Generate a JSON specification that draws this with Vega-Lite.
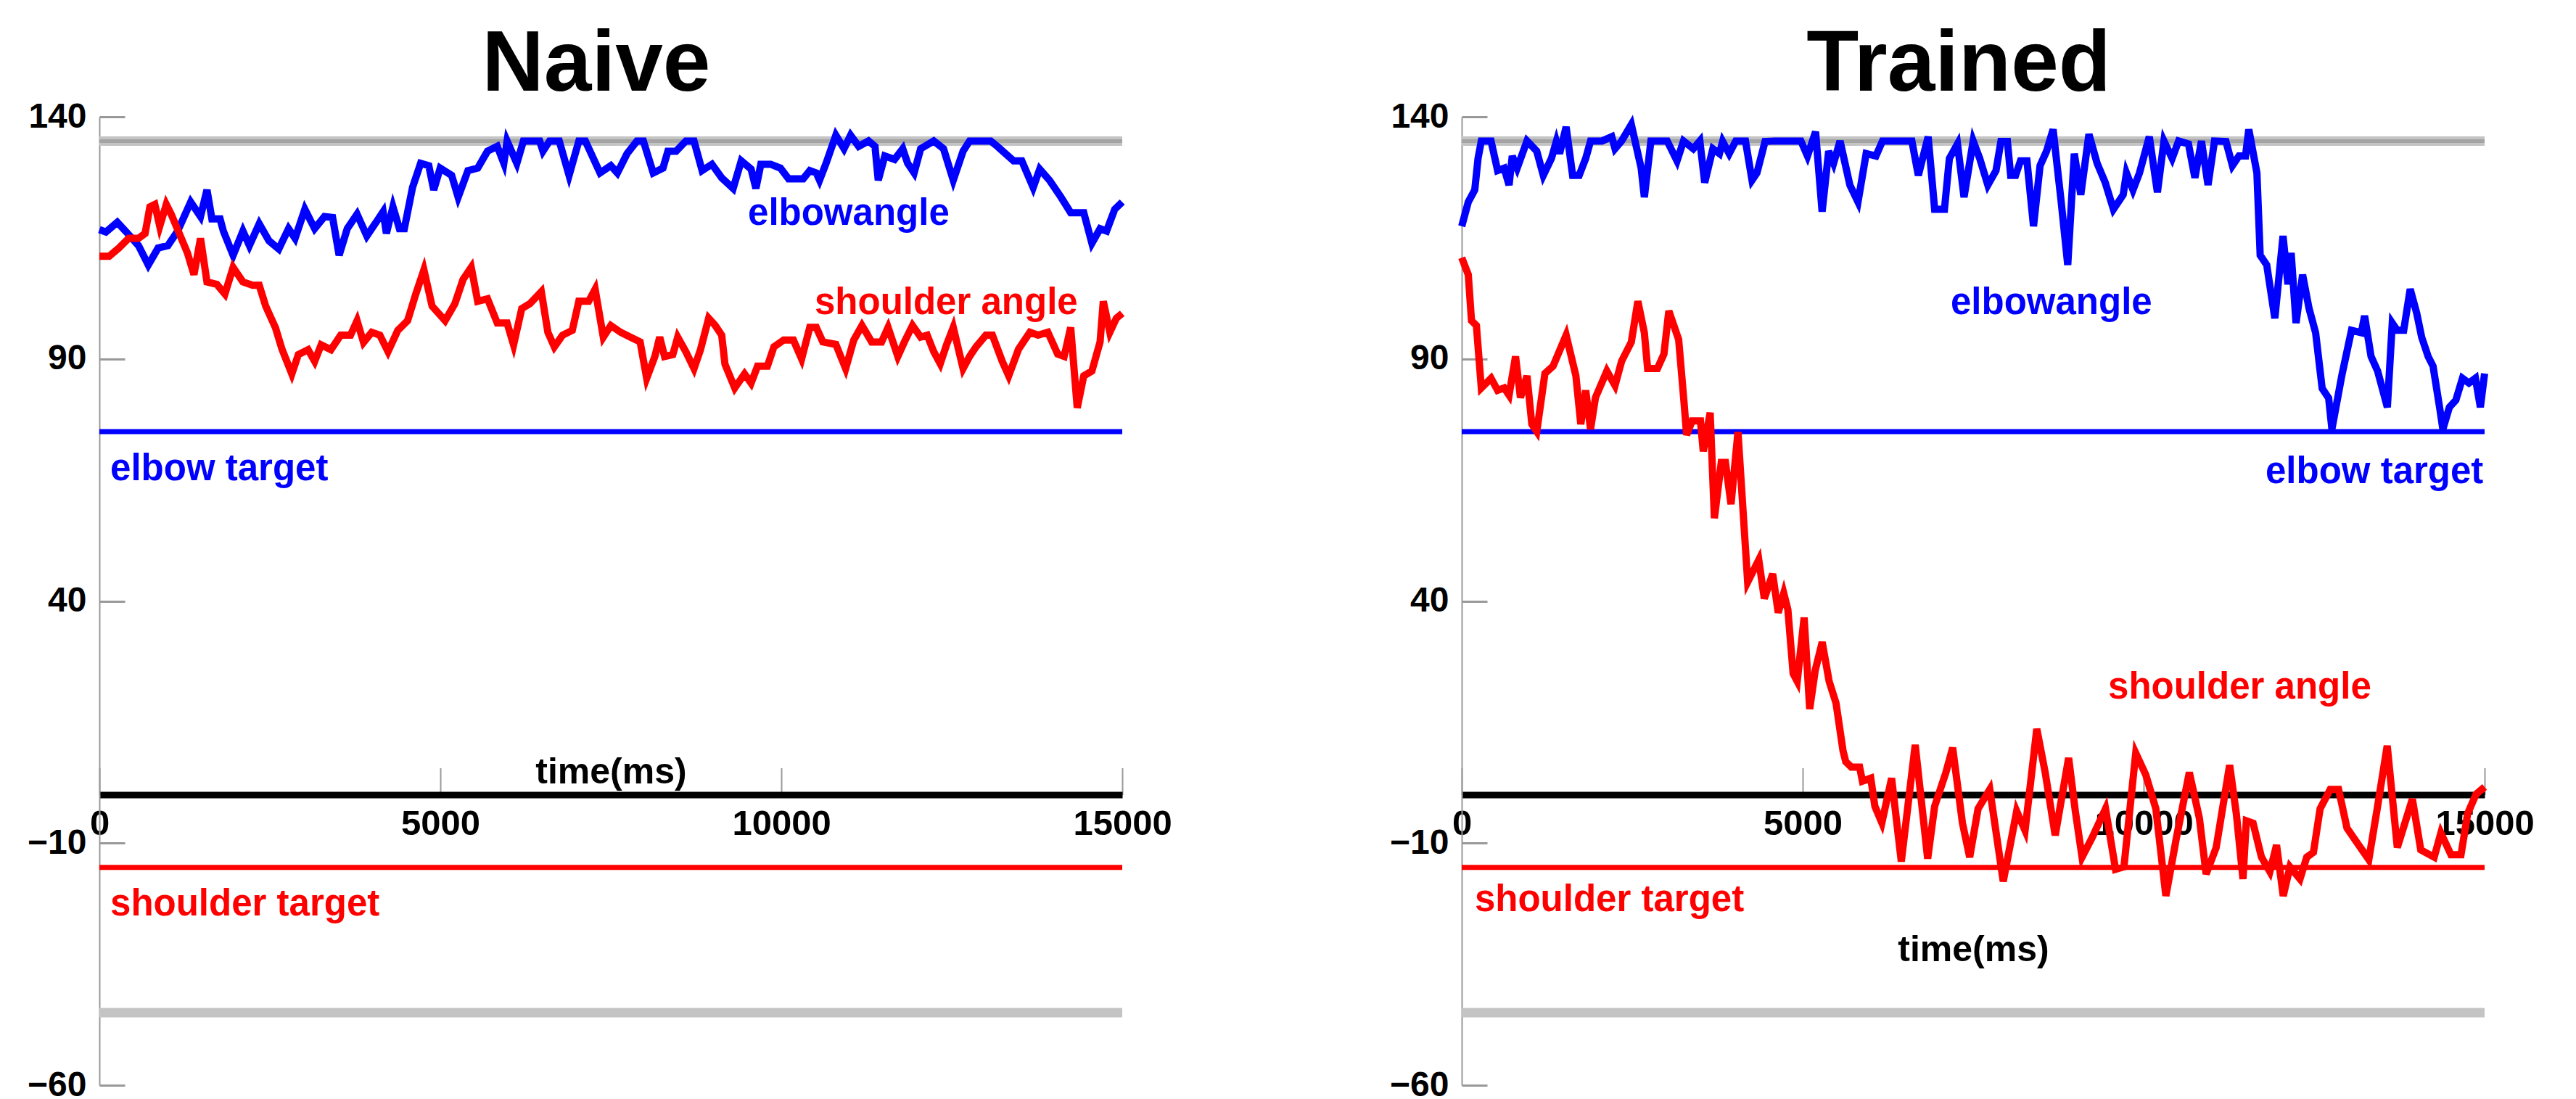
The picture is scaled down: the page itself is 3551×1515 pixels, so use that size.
{
  "$schema": "https://vega.github.io/schema/vega-lite/v6.json",
  "background": "white",
  "padding": {"left": 37, "top": 31, "right": 0, "bottom": 0},
  "spacing": 468,
  "bounds": "flush",
  "config": {"view": {"stroke": null}, "font": "Liberation Sans"},
  "datasets": {
    "limits": [{"joint": "elbow", "v": 135}, {"joint": "shoulder", "v": -45}],
    "targets": [{"joint": "elbow", "v": 75}, {"joint": "shoulder", "v": -15}],
    "naiveLabels": [
      {"t": 9511, "v": 117.7, "joint": "elbow", "label": "elbowangle"},
      {"t": 10489, "v": 99.2, "joint": "shoulder", "label": "shoulder angle"},
      {"t": 160, "v": 65, "joint": "elbow", "label": "elbow target"},
      {"t": 160, "v": -25, "joint": "shoulder", "label": "shoulder target"}
    ],
    "trainedLabels": [
      {"t": 7170, "v": 99.3, "joint": "elbow", "label": "elbowangle"},
      {"t": 9479, "v": 19.8, "joint": "shoulder", "label": "shoulder angle"},
      {"t": 11787, "v": 64.3, "joint": "elbow", "label": "elbow target"},
      {"t": 191, "v": -24, "joint": "shoulder", "label": "shoulder target"}
    ],
    "naive": [
      {"t":0,"v":116.7,"joint":"elbow"},{"t":96,"v":116.2,"joint":"elbow"},{"t":263,"v":118.2,"joint":"elbow"},{"t":383,"v":116.4,"joint":"elbow"},{"t":574,"v":113.4,"joint":"elbow"},{"t":717,"v":109.4,"joint":"elbow"},{"t":861,"v":112.9,"joint":"elbow"},{"t":1004,"v":113.4,"joint":"elbow"},{"t":1148,"v":116.4,"joint":"elbow"},{"t":1339,"v":122.4,"joint":"elbow"},{"t":1483,"v":119.4,"joint":"elbow"},{"t":1578,"v":124.9,"joint":"elbow"},{"t":1650,"v":118.9,"joint":"elbow"},{"t":1770,"v":118.9,"joint":"elbow"},{"t":1818,"v":116.4,"joint":"elbow"},{"t":1961,"v":111.4,"joint":"elbow"},{"t":2105,"v":116.4,"joint":"elbow"},{"t":2200,"v":113.4,"joint":"elbow"},{"t":2344,"v":117.9,"joint":"elbow"},{"t":2487,"v":114.4,"joint":"elbow"},{"t":2631,"v":112.7,"joint":"elbow"},{"t":2774,"v":116.9,"joint":"elbow"},{"t":2870,"v":114.9,"joint":"elbow"},{"t":3013,"v":120.9,"joint":"elbow"},{"t":3157,"v":116.9,"joint":"elbow"},{"t":3300,"v":119.4,"joint":"elbow"},{"t":3420,"v":119.2,"joint":"elbow"},{"t":3516,"v":111.4,"joint":"elbow"},{"t":3635,"v":116.9,"joint":"elbow"},{"t":3779,"v":119.9,"joint":"elbow"},{"t":3922,"v":115.4,"joint":"elbow"},{"t":4066,"v":118.4,"joint":"elbow"},{"t":4161,"v":120.4,"joint":"elbow"},{"t":4209,"v":115.9,"joint":"elbow"},{"t":4305,"v":121.4,"joint":"elbow"},{"t":4400,"v":116.9,"joint":"elbow"},{"t":4472,"v":116.9,"joint":"elbow"},{"t":4592,"v":125.4,"joint":"elbow"},{"t":4711,"v":130.4,"joint":"elbow"},{"t":4831,"v":129.9,"joint":"elbow"},{"t":4903,"v":124.9,"joint":"elbow"},{"t":4998,"v":129.4,"joint":"elbow"},{"t":5166,"v":127.9,"joint":"elbow"},{"t":5261,"v":123.4,"joint":"elbow"},{"t":5405,"v":128.9,"joint":"elbow"},{"t":5548,"v":129.4,"joint":"elbow"},{"t":5692,"v":132.9,"joint":"elbow"},{"t":5835,"v":133.9,"joint":"elbow"},{"t":5931,"v":130.4,"joint":"elbow"},{"t":5979,"v":135,"joint":"elbow"},{"t":6122,"v":130.4,"joint":"elbow"},{"t":6218,"v":135,"joint":"elbow"},{"t":6457,"v":135,"joint":"elbow"},{"t":6505,"v":132.9,"joint":"elbow"},{"t":6601,"v":135,"joint":"elbow"},{"t":6744,"v":135,"joint":"elbow"},{"t":6888,"v":127.9,"joint":"elbow"},{"t":7031,"v":135,"joint":"elbow"},{"t":7127,"v":135,"joint":"elbow"},{"t":7342,"v":128.4,"joint":"elbow"},{"t":7500,"v":129.9,"joint":"elbow"},{"t":7596,"v":128.4,"joint":"elbow"},{"t":7739,"v":132.4,"joint":"elbow"},{"t":7883,"v":135,"joint":"elbow"},{"t":7978,"v":135,"joint":"elbow"},{"t":8122,"v":128.4,"joint":"elbow"},{"t":8265,"v":129.4,"joint":"elbow"},{"t":8337,"v":132.9,"joint":"elbow"},{"t":8457,"v":132.9,"joint":"elbow"},{"t":8600,"v":135,"joint":"elbow"},{"t":8720,"v":135,"joint":"elbow"},{"t":8839,"v":128.9,"joint":"elbow"},{"t":8983,"v":130.2,"joint":"elbow"},{"t":9126,"v":127.4,"joint":"elbow"},{"t":9294,"v":125.2,"joint":"elbow"},{"t":9413,"v":130.9,"joint":"elbow"},{"t":9557,"v":129.2,"joint":"elbow"},{"t":9628,"v":125.2,"joint":"elbow"},{"t":9700,"v":130.2,"joint":"elbow"},{"t":9844,"v":130.2,"joint":"elbow"},{"t":9987,"v":129.4,"joint":"elbow"},{"t":10107,"v":127.2,"joint":"elbow"},{"t":10322,"v":127.2,"joint":"elbow"},{"t":10418,"v":128.9,"joint":"elbow"},{"t":10513,"v":128.4,"joint":"elbow"},{"t":10561,"v":126.9,"joint":"elbow"},{"t":10657,"v":130.4,"joint":"elbow"},{"t":10800,"v":136.2,"joint":"elbow"},{"t":10920,"v":133.4,"joint":"elbow"},{"t":11016,"v":136.2,"joint":"elbow"},{"t":11135,"v":133.9,"joint":"elbow"},{"t":11279,"v":135,"joint":"elbow"},{"t":11374,"v":133.9,"joint":"elbow"},{"t":11422,"v":126.9,"joint":"elbow"},{"t":11518,"v":131.9,"joint":"elbow"},{"t":11661,"v":131.2,"joint":"elbow"},{"t":11781,"v":133.4,"joint":"elbow"},{"t":11853,"v":130.4,"joint":"elbow"},{"t":11948,"v":128.4,"joint":"elbow"},{"t":12044,"v":133.4,"joint":"elbow"},{"t":12235,"v":135,"joint":"elbow"},{"t":12379,"v":133.4,"joint":"elbow"},{"t":12522,"v":126.9,"joint":"elbow"},{"t":12666,"v":132.9,"joint":"elbow"},{"t":12761,"v":135,"joint":"elbow"},{"t":12905,"v":135,"joint":"elbow"},{"t":13072,"v":135,"joint":"elbow"},{"t":13168,"v":133.9,"joint":"elbow"},{"t":13287,"v":132.4,"joint":"elbow"},{"t":13407,"v":130.9,"joint":"elbow"},{"t":13527,"v":130.9,"joint":"elbow"},{"t":13694,"v":125.4,"joint":"elbow"},{"t":13790,"v":129.2,"joint":"elbow"},{"t":13933,"v":126.9,"joint":"elbow"},{"t":14101,"v":123.4,"joint":"elbow"},{"t":14244,"v":120.2,"joint":"elbow"},{"t":14436,"v":120.2,"joint":"elbow"},{"t":14555,"v":113.9,"joint":"elbow"},{"t":14675,"v":116.9,"joint":"elbow"},{"t":14770,"v":116.4,"joint":"elbow"},{"t":14890,"v":120.9,"joint":"elbow"},{"t":15000,"v":122.4,"joint":"elbow"},
      {"t":0,"v":111.2,"joint":"shoulder"},{"t":143,"v":111.2,"joint":"shoulder"},{"t":287,"v":112.9,"joint":"shoulder"},{"t":430,"v":114.9,"joint":"shoulder"},{"t":574,"v":114.9,"joint":"shoulder"},{"t":670,"v":115.9,"joint":"shoulder"},{"t":741,"v":121.4,"joint":"shoulder"},{"t":813,"v":121.9,"joint":"shoulder"},{"t":885,"v":117.4,"joint":"shoulder"},{"t":981,"v":121.9,"joint":"shoulder"},{"t":1052,"v":119.9,"joint":"shoulder"},{"t":1172,"v":115.9,"joint":"shoulder"},{"t":1291,"v":111.9,"joint":"shoulder"},{"t":1387,"v":107.4,"joint":"shoulder"},{"t":1483,"v":114.9,"joint":"shoulder"},{"t":1578,"v":105.9,"joint":"shoulder"},{"t":1722,"v":105.4,"joint":"shoulder"},{"t":1841,"v":103.4,"joint":"shoulder"},{"t":1961,"v":108.9,"joint":"shoulder"},{"t":2105,"v":105.9,"joint":"shoulder"},{"t":2248,"v":105.2,"joint":"shoulder"},{"t":2344,"v":105.2,"joint":"shoulder"},{"t":2439,"v":100.9,"joint":"shoulder"},{"t":2583,"v":96.4,"joint":"shoulder"},{"t":2678,"v":92,"joint":"shoulder"},{"t":2822,"v":86.9,"joint":"shoulder"},{"t":2918,"v":90.9,"joint":"shoulder"},{"t":3061,"v":91.9,"joint":"shoulder"},{"t":3157,"v":89.5,"joint":"shoulder"},{"t":3252,"v":92.9,"joint":"shoulder"},{"t":3396,"v":91.9,"joint":"shoulder"},{"t":3539,"v":94.9,"joint":"shoulder"},{"t":3683,"v":94.9,"joint":"shoulder"},{"t":3779,"v":97.9,"joint":"shoulder"},{"t":3874,"v":93.4,"joint":"shoulder"},{"t":3994,"v":95.5,"joint":"shoulder"},{"t":4113,"v":94.9,"joint":"shoulder"},{"t":4233,"v":91.5,"joint":"shoulder"},{"t":4376,"v":95.9,"joint":"shoulder"},{"t":4520,"v":97.9,"joint":"shoulder"},{"t":4640,"v":103.4,"joint":"shoulder"},{"t":4759,"v":108.4,"joint":"shoulder"},{"t":4879,"v":100.9,"joint":"shoulder"},{"t":5070,"v":97.9,"joint":"shoulder"},{"t":5213,"v":101.4,"joint":"shoulder"},{"t":5333,"v":106.4,"joint":"shoulder"},{"t":5453,"v":108.9,"joint":"shoulder"},{"t":5548,"v":101.9,"joint":"shoulder"},{"t":5692,"v":102.4,"joint":"shoulder"},{"t":5835,"v":97.4,"joint":"shoulder"},{"t":5979,"v":97.4,"joint":"shoulder"},{"t":6074,"v":92.9,"joint":"shoulder"},{"t":6194,"v":100.4,"joint":"shoulder"},{"t":6314,"v":101.4,"joint":"shoulder"},{"t":6481,"v":103.9,"joint":"shoulder"},{"t":6577,"v":95.5,"joint":"shoulder"},{"t":6672,"v":92.5,"joint":"shoulder"},{"t":6792,"v":94.9,"joint":"shoulder"},{"t":6935,"v":95.9,"joint":"shoulder"},{"t":7031,"v":101.9,"joint":"shoulder"},{"t":7175,"v":101.9,"joint":"shoulder"},{"t":7270,"v":104.4,"joint":"shoulder"},{"t":7390,"v":94.5,"joint":"shoulder"},{"t":7500,"v":96.9,"joint":"shoulder"},{"t":7643,"v":95.5,"joint":"shoulder"},{"t":7787,"v":94.5,"joint":"shoulder"},{"t":7930,"v":93.5,"joint":"shoulder"},{"t":8026,"v":86,"joint":"shoulder"},{"t":8146,"v":90.5,"joint":"shoulder"},{"t":8217,"v":94.5,"joint":"shoulder"},{"t":8289,"v":90.5,"joint":"shoulder"},{"t":8409,"v":90.9,"joint":"shoulder"},{"t":8481,"v":94.5,"joint":"shoulder"},{"t":8600,"v":91.5,"joint":"shoulder"},{"t":8720,"v":88,"joint":"shoulder"},{"t":8815,"v":91.9,"joint":"shoulder"},{"t":8935,"v":98.4,"joint":"shoulder"},{"t":9031,"v":96.9,"joint":"shoulder"},{"t":9126,"v":94.9,"joint":"shoulder"},{"t":9174,"v":88.9,"joint":"shoulder"},{"t":9318,"v":84,"joint":"shoulder"},{"t":9461,"v":86.9,"joint":"shoulder"},{"t":9557,"v":85,"joint":"shoulder"},{"t":9652,"v":88.5,"joint":"shoulder"},{"t":9796,"v":88.5,"joint":"shoulder"},{"t":9892,"v":92.5,"joint":"shoulder"},{"t":10035,"v":93.9,"joint":"shoulder"},{"t":10178,"v":93.9,"joint":"shoulder"},{"t":10298,"v":90,"joint":"shoulder"},{"t":10418,"v":96.5,"joint":"shoulder"},{"t":10513,"v":96.5,"joint":"shoulder"},{"t":10609,"v":93.5,"joint":"shoulder"},{"t":10800,"v":93,"joint":"shoulder"},{"t":10944,"v":88,"joint":"shoulder"},{"t":11063,"v":93.9,"joint":"shoulder"},{"t":11183,"v":96.9,"joint":"shoulder"},{"t":11326,"v":93.5,"joint":"shoulder"},{"t":11470,"v":93.5,"joint":"shoulder"},{"t":11566,"v":96.5,"joint":"shoulder"},{"t":11709,"v":90.5,"joint":"shoulder"},{"t":11805,"v":93.5,"joint":"shoulder"},{"t":11924,"v":96.9,"joint":"shoulder"},{"t":12044,"v":94.5,"joint":"shoulder"},{"t":12140,"v":94.9,"joint":"shoulder"},{"t":12235,"v":91.5,"joint":"shoulder"},{"t":12331,"v":89,"joint":"shoulder"},{"t":12426,"v":93,"joint":"shoulder"},{"t":12522,"v":96.5,"joint":"shoulder"},{"t":12666,"v":88,"joint":"shoulder"},{"t":12761,"v":90.5,"joint":"shoulder"},{"t":12857,"v":92.5,"joint":"shoulder"},{"t":13000,"v":94.9,"joint":"shoulder"},{"t":13096,"v":94.9,"joint":"shoulder"},{"t":13240,"v":89.5,"joint":"shoulder"},{"t":13335,"v":86.5,"joint":"shoulder"},{"t":13479,"v":92,"joint":"shoulder"},{"t":13646,"v":95.5,"joint":"shoulder"},{"t":13766,"v":94.9,"joint":"shoulder"},{"t":13909,"v":95.5,"joint":"shoulder"},{"t":14053,"v":91,"joint":"shoulder"},{"t":14148,"v":90.5,"joint":"shoulder"},{"t":14244,"v":96.5,"joint":"shoulder"},{"t":14340,"v":79.9,"joint":"shoulder"},{"t":14436,"v":86.5,"joint":"shoulder"},{"t":14555,"v":87.5,"joint":"shoulder"},{"t":14675,"v":93.5,"joint":"shoulder"},{"t":14722,"v":101.9,"joint":"shoulder"},{"t":14818,"v":95.5,"joint":"shoulder"},{"t":14914,"v":98.4,"joint":"shoulder"},{"t":15000,"v":99.4,"joint":"shoulder"}
    ],
    "trained": [
      {"t":0,"v":117.4,"joint":"elbow"},{"t":96,"v":122.4,"joint":"elbow"},{"t":191,"v":124.9,"joint":"elbow"},{"t":239,"v":131.4,"joint":"elbow"},{"t":287,"v":135,"joint":"elbow"},{"t":430,"v":135,"joint":"elbow"},{"t":526,"v":128.9,"joint":"elbow"},{"t":622,"v":129.4,"joint":"elbow"},{"t":694,"v":125.9,"joint":"elbow"},{"t":741,"v":131.9,"joint":"elbow"},{"t":813,"v":129.4,"joint":"elbow"},{"t":957,"v":135,"joint":"elbow"},{"t":1100,"v":132.9,"joint":"elbow"},{"t":1196,"v":127.9,"joint":"elbow"},{"t":1315,"v":131.4,"joint":"elbow"},{"t":1387,"v":134.9,"joint":"elbow"},{"t":1435,"v":132.4,"joint":"elbow"},{"t":1531,"v":137.9,"joint":"elbow"},{"t":1626,"v":127.9,"joint":"elbow"},{"t":1722,"v":127.9,"joint":"elbow"},{"t":1818,"v":131.4,"joint":"elbow"},{"t":1889,"v":135,"joint":"elbow"},{"t":2057,"v":135,"joint":"elbow"},{"t":2200,"v":135.9,"joint":"elbow"},{"t":2248,"v":133.4,"joint":"elbow"},{"t":2344,"v":135,"joint":"elbow"},{"t":2487,"v":138.4,"joint":"elbow"},{"t":2631,"v":129.4,"joint":"elbow"},{"t":2678,"v":123.4,"joint":"elbow"},{"t":2774,"v":135,"joint":"elbow"},{"t":3013,"v":135,"joint":"elbow"},{"t":3157,"v":130.9,"joint":"elbow"},{"t":3252,"v":135,"joint":"elbow"},{"t":3396,"v":133.4,"joint":"elbow"},{"t":3492,"v":135,"joint":"elbow"},{"t":3563,"v":126.4,"joint":"elbow"},{"t":3683,"v":133.4,"joint":"elbow"},{"t":3779,"v":132.4,"joint":"elbow"},{"t":3826,"v":134.9,"joint":"elbow"},{"t":3922,"v":132.4,"joint":"elbow"},{"t":4018,"v":135,"joint":"elbow"},{"t":4161,"v":135,"joint":"elbow"},{"t":4257,"v":126.9,"joint":"elbow"},{"t":4329,"v":128.4,"joint":"elbow"},{"t":4448,"v":134.9,"joint":"elbow"},{"t":4592,"v":135,"joint":"elbow"},{"t":4974,"v":135,"joint":"elbow"},{"t":5070,"v":131.9,"joint":"elbow"},{"t":5189,"v":136.9,"joint":"elbow"},{"t":5285,"v":120.4,"joint":"elbow"},{"t":5381,"v":132.9,"joint":"elbow"},{"t":5453,"v":130.4,"joint":"elbow"},{"t":5548,"v":135,"joint":"elbow"},{"t":5692,"v":125.9,"joint":"elbow"},{"t":5811,"v":122.4,"joint":"elbow"},{"t":5931,"v":132.4,"joint":"elbow"},{"t":6074,"v":131.9,"joint":"elbow"},{"t":6170,"v":135,"joint":"elbow"},{"t":6601,"v":135,"joint":"elbow"},{"t":6696,"v":127.9,"joint":"elbow"},{"t":6840,"v":135.9,"joint":"elbow"},{"t":6935,"v":120.9,"joint":"elbow"},{"t":7079,"v":120.9,"joint":"elbow"},{"t":7151,"v":131.4,"joint":"elbow"},{"t":7270,"v":134.4,"joint":"elbow"},{"t":7366,"v":123.4,"joint":"elbow"},{"t":7500,"v":135,"joint":"elbow"},{"t":7596,"v":131.4,"joint":"elbow"},{"t":7715,"v":125.9,"joint":"elbow"},{"t":7835,"v":128.9,"joint":"elbow"},{"t":7907,"v":134.9,"joint":"elbow"},{"t":8002,"v":134.9,"joint":"elbow"},{"t":8050,"v":127.9,"joint":"elbow"},{"t":8122,"v":127.9,"joint":"elbow"},{"t":8194,"v":130.9,"joint":"elbow"},{"t":8289,"v":130.9,"joint":"elbow"},{"t":8385,"v":117.4,"joint":"elbow"},{"t":8481,"v":129.9,"joint":"elbow"},{"t":8576,"v":132.9,"joint":"elbow"},{"t":8672,"v":137.4,"joint":"elbow"},{"t":8791,"v":122.4,"joint":"elbow"},{"t":8887,"v":109.4,"joint":"elbow"},{"t":8983,"v":132.4,"joint":"elbow"},{"t":9078,"v":123.9,"joint":"elbow"},{"t":9198,"v":136.4,"joint":"elbow"},{"t":9318,"v":130.4,"joint":"elbow"},{"t":9437,"v":126.4,"joint":"elbow"},{"t":9557,"v":120.9,"joint":"elbow"},{"t":9700,"v":123.9,"joint":"elbow"},{"t":9748,"v":128.4,"joint":"elbow"},{"t":9844,"v":124.9,"joint":"elbow"},{"t":9939,"v":128.4,"joint":"elbow"},{"t":10083,"v":135.9,"joint":"elbow"},{"t":10202,"v":124.4,"joint":"elbow"},{"t":10298,"v":135,"joint":"elbow"},{"t":10418,"v":131.4,"joint":"elbow"},{"t":10513,"v":135,"joint":"elbow"},{"t":10657,"v":134.4,"joint":"elbow"},{"t":10752,"v":127.4,"joint":"elbow"},{"t":10848,"v":135,"joint":"elbow"},{"t":10944,"v":125.9,"joint":"elbow"},{"t":11039,"v":135,"joint":"elbow"},{"t":11207,"v":134.9,"joint":"elbow"},{"t":11302,"v":129.9,"joint":"elbow"},{"t":11398,"v":131.9,"joint":"elbow"},{"t":11494,"v":131.9,"joint":"elbow"},{"t":11542,"v":137.4,"joint":"elbow"},{"t":11661,"v":128.4,"joint":"elbow"},{"t":11709,"v":111.4,"joint":"elbow"},{"t":11805,"v":109.4,"joint":"elbow"},{"t":11924,"v":98.4,"joint":"elbow"},{"t":12044,"v":115.4,"joint":"elbow"},{"t":12116,"v":105.4,"joint":"elbow"},{"t":12163,"v":111.9,"joint":"elbow"},{"t":12235,"v":97.4,"joint":"elbow"},{"t":12331,"v":107.4,"joint":"elbow"},{"t":12426,"v":100.4,"joint":"elbow"},{"t":12522,"v":95.4,"joint":"elbow"},{"t":12618,"v":83.9,"joint":"elbow"},{"t":12713,"v":81.9,"joint":"elbow"},{"t":12761,"v":75.5,"joint":"elbow"},{"t":12905,"v":86.5,"joint":"elbow"},{"t":13048,"v":95.9,"joint":"elbow"},{"t":13192,"v":95.4,"joint":"elbow"},{"t":13240,"v":98.9,"joint":"elbow"},{"t":13335,"v":90.5,"joint":"elbow"},{"t":13431,"v":87.5,"joint":"elbow"},{"t":13574,"v":80,"joint":"elbow"},{"t":13646,"v":97.4,"joint":"elbow"},{"t":13718,"v":95.9,"joint":"elbow"},{"t":13814,"v":95.9,"joint":"elbow"},{"t":13909,"v":104.4,"joint":"elbow"},{"t":14005,"v":99.4,"joint":"elbow"},{"t":14077,"v":94.5,"joint":"elbow"},{"t":14172,"v":90.5,"joint":"elbow"},{"t":14244,"v":88.5,"joint":"elbow"},{"t":14340,"v":80,"joint":"elbow"},{"t":14388,"v":75.5,"joint":"elbow"},{"t":14483,"v":80,"joint":"elbow"},{"t":14579,"v":81.5,"joint":"elbow"},{"t":14675,"v":86,"joint":"elbow"},{"t":14770,"v":85,"joint":"elbow"},{"t":14866,"v":86,"joint":"elbow"},{"t":14938,"v":80,"joint":"elbow"},{"t":15000,"v":87,"joint":"elbow"},
      {"t":0,"v":110.9,"joint":"shoulder"},{"t":96,"v":107.4,"joint":"shoulder"},{"t":143,"v":97.9,"joint":"shoulder"},{"t":215,"v":96.9,"joint":"shoulder"},{"t":287,"v":84,"joint":"shoulder"},{"t":430,"v":86,"joint":"shoulder"},{"t":526,"v":83.5,"joint":"shoulder"},{"t":622,"v":84,"joint":"shoulder"},{"t":694,"v":82.5,"joint":"shoulder"},{"t":789,"v":90.5,"joint":"shoulder"},{"t":861,"v":82,"joint":"shoulder"},{"t":957,"v":86.5,"joint":"shoulder"},{"t":1028,"v":76.5,"joint":"shoulder"},{"t":1100,"v":75,"joint":"shoulder"},{"t":1220,"v":87,"joint":"shoulder"},{"t":1339,"v":88.5,"joint":"shoulder"},{"t":1531,"v":94.9,"joint":"shoulder"},{"t":1674,"v":86.5,"joint":"shoulder"},{"t":1746,"v":76.5,"joint":"shoulder"},{"t":1818,"v":83.5,"joint":"shoulder"},{"t":1889,"v":75.5,"joint":"shoulder"},{"t":1961,"v":82,"joint":"shoulder"},{"t":2128,"v":87.5,"joint":"shoulder"},{"t":2248,"v":84.5,"joint":"shoulder"},{"t":2344,"v":89.5,"joint":"shoulder"},{"t":2487,"v":93.5,"joint":"shoulder"},{"t":2583,"v":101.9,"joint":"shoulder"},{"t":2678,"v":95.4,"joint":"shoulder"},{"t":2726,"v":88,"joint":"shoulder"},{"t":2870,"v":88,"joint":"shoulder"},{"t":2965,"v":91,"joint":"shoulder"},{"t":3037,"v":99.9,"joint":"shoulder"},{"t":3181,"v":94,"joint":"shoulder"},{"t":3260,"v":81,"joint":"shoulder"},{"t":3298,"v":74.3,"joint":"shoulder"},{"t":3379,"v":77.2,"joint":"shoulder"},{"t":3501,"v":77.2,"joint":"shoulder"},{"t":3542,"v":70.9,"joint":"shoulder"},{"t":3643,"v":78.9,"joint":"shoulder"},{"t":3705,"v":57.1,"joint":"shoulder"},{"t":3806,"v":68.6,"joint":"shoulder"},{"t":3867,"v":68.6,"joint":"shoulder"},{"t":3949,"v":60,"joint":"shoulder"},{"t":4051,"v":74.9,"joint":"shoulder"},{"t":4193,"v":43.9,"joint":"shoulder"},{"t":4356,"v":48.5,"joint":"shoulder"},{"t":4437,"v":40.5,"joint":"shoulder"},{"t":4560,"v":45.6,"joint":"shoulder"},{"t":4641,"v":37.6,"joint":"shoulder"},{"t":4722,"v":41.6,"joint":"shoulder"},{"t":4783,"v":38.2,"joint":"shoulder"},{"t":4860,"v":25,"joint":"shoulder"},{"t":4920,"v":23.4,"joint":"shoulder"},{"t":5021,"v":36.6,"joint":"shoulder"},{"t":5103,"v":17.7,"joint":"shoulder"},{"t":5184,"v":25.7,"joint":"shoulder"},{"t":5286,"v":31.5,"joint":"shoulder"},{"t":5388,"v":23.4,"joint":"shoulder"},{"t":5489,"v":18.9,"joint":"shoulder"},{"t":5591,"v":9.1,"joint":"shoulder"},{"t":5632,"v":6.8,"joint":"shoulder"},{"t":5713,"v":5.7,"joint":"shoulder"},{"t":5835,"v":5.7,"joint":"shoulder"},{"t":5876,"v":2.8,"joint":"shoulder"},{"t":5998,"v":3.4,"joint":"shoulder"},{"t":6059,"v":-2.4,"joint":"shoulder"},{"t":6161,"v":-5.8,"joint":"shoulder"},{"t":6304,"v":3.4,"joint":"shoulder"},{"t":6446,"v":-13.8,"joint":"shoulder"},{"t":6650,"v":10.3,"joint":"shoulder"},{"t":6833,"v":-13.2,"joint":"shoulder"},{"t":6935,"v":-2.4,"joint":"shoulder"},{"t":7098,"v":4.5,"joint":"shoulder"},{"t":7199,"v":9.7,"joint":"shoulder"},{"t":7342,"v":-5.8,"joint":"shoulder"},{"t":7449,"v":-12.9,"joint":"shoulder"},{"t":7572,"v":-2.9,"joint":"shoulder"},{"t":7744,"v":1.1,"joint":"shoulder"},{"t":7941,"v":-17.9,"joint":"shoulder"},{"t":8138,"v":-3.4,"joint":"shoulder"},{"t":8261,"v":-7.4,"joint":"shoulder"},{"t":8433,"v":13.6,"joint":"shoulder"},{"t":8556,"v":4.6,"joint":"shoulder"},{"t":8703,"v":-8.4,"joint":"shoulder"},{"t":8900,"v":7.6,"joint":"shoulder"},{"t":8998,"v":-3.4,"joint":"shoulder"},{"t":9097,"v":-12.9,"joint":"shoulder"},{"t":9244,"v":-8.9,"joint":"shoulder"},{"t":9441,"v":-2.9,"joint":"shoulder"},{"t":9588,"v":-15.4,"joint":"shoulder"},{"t":9711,"v":-14.9,"joint":"shoulder"},{"t":9884,"v":8.6,"joint":"shoulder"},{"t":10031,"v":4.1,"joint":"shoulder"},{"t":10179,"v":-2.9,"joint":"shoulder"},{"t":10326,"v":-20.9,"joint":"shoulder"},{"t":10474,"v":-9.4,"joint":"shoulder"},{"t":10670,"v":4.6,"joint":"shoulder"},{"t":10818,"v":-4.9,"joint":"shoulder"},{"t":10916,"v":-16.4,"joint":"shoulder"},{"t":11064,"v":-10.9,"joint":"shoulder"},{"t":11261,"v":6.1,"joint":"shoulder"},{"t":11359,"v":-3.9,"joint":"shoulder"},{"t":11457,"v":-17.4,"joint":"shoulder"},{"t":11506,"v":-5.4,"joint":"shoulder"},{"t":11605,"v":-5.9,"joint":"shoulder"},{"t":11728,"v":-12.9,"joint":"shoulder"},{"t":11851,"v":-15.9,"joint":"shoulder"},{"t":11949,"v":-10.4,"joint":"shoulder"},{"t":12047,"v":-20.9,"joint":"shoulder"},{"t":12146,"v":-14.9,"joint":"shoulder"},{"t":12293,"v":-17.4,"joint":"shoulder"},{"t":12392,"v":-12.9,"joint":"shoulder"},{"t":12490,"v":-11.9,"joint":"shoulder"},{"t":12588,"v":-2.9,"joint":"shoulder"},{"t":12736,"v":1.1,"joint":"shoulder"},{"t":12859,"v":1.1,"joint":"shoulder"},{"t":12982,"v":-6.9,"joint":"shoulder"},{"t":13129,"v":-9.9,"joint":"shoulder"},{"t":13302,"v":-13.4,"joint":"shoulder"},{"t":13425,"v":-2.9,"joint":"shoulder"},{"t":13572,"v":10.1,"joint":"shoulder"},{"t":13720,"v":-10.9,"joint":"shoulder"},{"t":13941,"v":-0.9,"joint":"shoulder"},{"t":14064,"v":-11.4,"joint":"shoulder"},{"t":14261,"v":-12.9,"joint":"shoulder"},{"t":14359,"v":-7.9,"joint":"shoulder"},{"t":14507,"v":-12.4,"joint":"shoulder"},{"t":14654,"v":-12.4,"joint":"shoulder"},{"t":14752,"v":-3.9,"joint":"shoulder"},{"t":14875,"v":0.1,"joint":"shoulder"},{"t":15000,"v":1.6,"joint":"shoulder"}
    ]
  },
  "hconcat": [
    {
      "width": 1410,
      "height": 1335,
      "title": {"text": "Naive", "fontSize": 118, "fontWeight": "bold", "font": "Liberation Sans", "color": "#000000", "anchor": "middle", "offset": -13, "dx": -20},
      "layer": [
        {"data": {"name": "limits"}, "mark": {"type": "rule", "color": "#c4c4c4", "strokeWidth": 13},
         "encoding": {"y": {"field": "v", "type": "quantitative", "scale": {"domain": [-60, 140], "nice": false, "zero": false}}}},
        {"data": {"name": "limits"}, "transform": [{"filter": "datum.joint === 'elbow'"}], "mark": {"type": "rule", "color": "#a4a4a4", "strokeWidth": 5},
         "encoding": {"y": {"field": "v", "type": "quantitative"}}},
        {"data": {"name": "targets"}, "mark": {"type": "rule", "strokeWidth": 7},
         "encoding": {"y": {"field": "v", "type": "quantitative"},
                      "color": {"field": "joint", "type": "nominal", "scale": {"domain": ["elbow", "shoulder"], "range": ["#0000ff", "#ff0000"]}, "legend": null}}},
        {"data": {"name": "naive"}, "mark": {"type": "line", "strokeWidth": 10},
         "encoding": {
           "x": {"field": "t", "type": "quantitative", "scale": {"domain": [0, 15000], "nice": false, "zero": false},
                 "axis": {"values": [0, 5000, 10000, 15000], "format": "d", "offset": -400.5, "domainColor": "#000000", "domainWidth": 9, "tickColor": "#999999", "tickWidth": 2, "tickSize": -37, "labelPadding": 53, "labelFontSize": 49, "labelFontWeight": "bold", "labelColor": "#000000", "labelFlush": false, "labelOverlap": false, "labelBound": false, "grid": false, "title": "time(ms)", "titleFontSize": 50, "titleFontWeight": "bold", "titleColor": "#000000", "titleY": -16, "titleBaseline": "alphabetic"}},
           "y": {"field": "v", "type": "quantitative", "scale": {"domain": [-60, 140], "nice": false, "zero": false},
                 "axis": {"values": [140, 90, 40, -10, -60], "domainColor": "#999999", "domainWidth": 2, "tickColor": "#999999", "tickWidth": 3, "tickSize": -35, "labelPadding": 53, "labelFontSize": 48, "labelFontWeight": "bold", "labelColor": "#000000", "labelOverlap": false, "labelBound": false, "grid": false, "title": null}},
           "color": {"field": "joint", "type": "nominal", "scale": {"domain": ["elbow", "shoulder"], "range": ["#0000ff", "#ff0000"]}, "legend": null}}},
        {"data": {"name": "naiveLabels"}, "mark": {"type": "text", "align": "left", "baseline": "alphabetic", "fontSize": 51, "fontWeight": "bold"},
         "encoding": {"x": {"field": "t", "type": "quantitative"}, "y": {"field": "v", "type": "quantitative"}, "text": {"field": "label"},
                      "color": {"field": "joint", "type": "nominal", "legend": null}}}
      ]
    },
    {
      "width": 1410,
      "height": 1335,
      "title": {"text": "Trained", "fontSize": 118, "fontWeight": "bold", "font": "Liberation Sans", "color": "#000000", "anchor": "middle", "offset": -13, "dx": -20},
      "layer": [
        {"data": {"name": "limits"}, "mark": {"type": "rule", "color": "#c4c4c4", "strokeWidth": 13},
         "encoding": {"y": {"field": "v", "type": "quantitative", "scale": {"domain": [-60, 140], "nice": false, "zero": false}}}},
        {"data": {"name": "limits"}, "transform": [{"filter": "datum.joint === 'elbow'"}], "mark": {"type": "rule", "color": "#a4a4a4", "strokeWidth": 5},
         "encoding": {"y": {"field": "v", "type": "quantitative"}}},
        {"data": {"name": "targets"}, "mark": {"type": "rule", "strokeWidth": 7},
         "encoding": {"y": {"field": "v", "type": "quantitative"},
                      "color": {"field": "joint", "type": "nominal", "scale": {"domain": ["elbow", "shoulder"], "range": ["#0000ff", "#ff0000"]}, "legend": null}}},
        {"data": {"name": "trained"}, "mark": {"type": "line", "strokeWidth": 10},
         "encoding": {
           "x": {"field": "t", "type": "quantitative", "scale": {"domain": [0, 15000], "nice": false, "zero": false},
                 "axis": {"values": [0, 5000, 10000, 15000], "format": "d", "offset": -400.5, "domainColor": "#000000", "domainWidth": 9, "tickColor": "#999999", "tickWidth": 2, "tickSize": -37, "labelPadding": 53, "labelFontSize": 49, "labelFontWeight": "bold", "labelColor": "#000000", "labelFlush": false, "labelOverlap": false, "labelBound": false, "grid": false, "title": "time(ms)", "titleFontSize": 50, "titleFontWeight": "bold", "titleColor": "#000000", "titleY": 229, "titleBaseline": "alphabetic"}},
           "y": {"field": "v", "type": "quantitative", "scale": {"domain": [-60, 140], "nice": false, "zero": false},
                 "axis": {"values": [140, 90, 40, -10, -60], "domainColor": "#999999", "domainWidth": 2, "tickColor": "#999999", "tickWidth": 3, "tickSize": -35, "labelPadding": 53, "labelFontSize": 48, "labelFontWeight": "bold", "labelColor": "#000000", "labelOverlap": false, "labelBound": false, "grid": false, "title": null}},
           "color": {"field": "joint", "type": "nominal", "scale": {"domain": ["elbow", "shoulder"], "range": ["#0000ff", "#ff0000"]}, "legend": null}}},
        {"data": {"name": "trainedLabels"}, "mark": {"type": "text", "align": "left", "baseline": "alphabetic", "fontSize": 51, "fontWeight": "bold"},
         "encoding": {"x": {"field": "t", "type": "quantitative"}, "y": {"field": "v", "type": "quantitative"}, "text": {"field": "label"},
                      "color": {"field": "joint", "type": "nominal", "legend": null}}}
      ]
    }
  ]
}
